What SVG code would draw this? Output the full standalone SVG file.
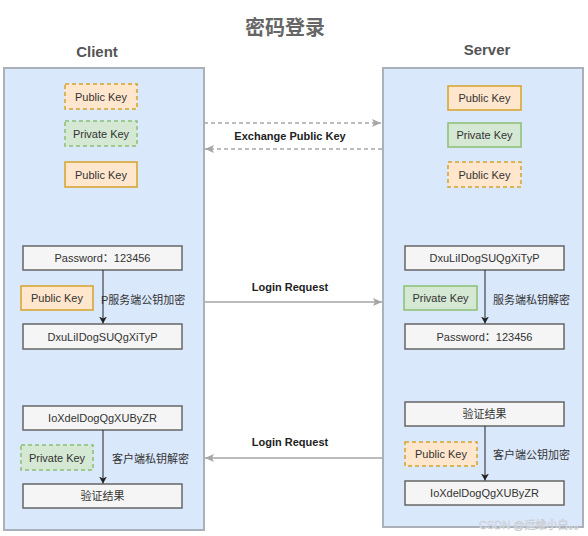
<svg xmlns="http://www.w3.org/2000/svg" width="588" height="536" viewBox="0 0 588 536">
<style>
text{font-family:"Liberation Sans","Noto Sans CJK SC",sans-serif;}
.title{font-size:20px;font-weight:bold;fill:#666;}
.head{font-size:15px;font-weight:bold;fill:#555;}
.panel{fill:#dae8fc;stroke:#abb1ba;stroke-width:2;}
.pub{fill:#ffe6cc;stroke:#d6a22a;stroke-width:1.5;}
.priv{fill:#d5e8d4;stroke:#8cbf72;stroke-width:1.5;}
.dash{stroke-dasharray:4 3;}
.proc{fill:#f5f5f5;stroke:#666;stroke-width:1.5;}
.lbl{font-size:11px;fill:#333;text-anchor:middle;dominant-baseline:central;}
.note{font-size:11px;fill:#333;dominant-baseline:central;}
.elbl{font-size:11px;font-weight:bold;fill:#222;text-anchor:middle;dominant-baseline:central;}
.conn{stroke:#a6a6a6;stroke-width:1.5;fill:none;}
.vert{stroke:#222;stroke-width:1;fill:none;}
</style>
<defs>
<marker id="ag" markerWidth="10" markerHeight="10" refX="9" refY="5" orient="auto" markerUnits="userSpaceOnUse">
<path d="M0,1 L9,5 L0,9 L2,5 Z" fill="#a6a6a6"/>
</marker>
<marker id="ab" markerWidth="8" markerHeight="8" refX="7" refY="4" orient="auto" markerUnits="userSpaceOnUse">
<path d="M0,0 L7,4 L0,8 L2,4 Z" fill="#222"/>
</marker>
</defs>
<rect width="588" height="536" fill="#fff"/>
<text class="title" x="285" y="35" text-anchor="middle">密码登录</text>
<text class="head" x="97" y="57" text-anchor="middle">Client</text>
<text class="head" x="487" y="55" text-anchor="middle">Server</text>

<g id="client-panel"><rect class="panel" x="4" y="68" width="200" height="462"/></g>
<g id="server-panel"><rect class="panel" x="383" y="68" width="200" height="459"/></g>

<g id="c-pub1"><rect class="pub dash" x="65" y="84" width="72" height="25"/><text class="lbl" x="101" y="96.5">Public Key</text></g>
<g id="c-priv"><rect class="priv dash" x="65" y="121" width="72" height="25"/><text class="lbl" x="101" y="133.5">Private Key</text></g>
<g id="c-pub2"><rect class="pub" x="65" y="162" width="72" height="25"/><text class="lbl" x="101" y="174.5">Public Key</text></g>

<g id="s-pub1"><rect class="pub" x="448" y="86" width="73" height="24"/><text class="lbl" x="484.5" y="98">Public Key</text></g>
<g id="s-priv"><rect class="priv" x="448" y="123" width="73" height="24"/><text class="lbl" x="484.5" y="135">Private Key</text></g>
<g id="s-pub2"><rect class="pub dash" x="448" y="162" width="73" height="25"/><text class="lbl" x="484.5" y="174.5">Public Key</text></g>

<g id="c-pwd"><rect class="proc" x="23" y="246" width="159" height="24"/><text class="lbl" x="102.5" y="258">Password：123456</text></g>
<g id="c-pubk"><rect class="pub" x="21" y="286" width="72" height="24"/><text class="lbl" x="57" y="298">Public Key</text></g>
<g id="c-enc"><rect class="proc" x="23" y="324" width="159" height="25"/><text class="lbl" x="102.5" y="336.5">DxuLiIDogSUQgXiTyP</text></g>

<g id="s-enc"><rect class="proc" x="405" y="246" width="159" height="24"/><text class="lbl" x="484.5" y="258">DxuLiIDogSUQgXiTyP</text></g>
<g id="s-privk"><rect class="priv" x="404" y="286" width="73" height="24"/><text class="lbl" x="440.5" y="298">Private Key</text></g>
<g id="s-pwd"><rect class="proc" x="405" y="324" width="159" height="25"/><text class="lbl" x="484.5" y="336.5">Password：123456</text></g>

<g id="c-cipher"><rect class="proc" x="23" y="406" width="159" height="24"/><text class="lbl" x="102.5" y="418">IoXdelDogQgXUByZR</text></g>
<g id="c-privk"><rect class="priv dash" x="21" y="445" width="72" height="25"/><text class="lbl" x="57" y="457.5">Private Key</text></g>
<g id="c-verify"><rect class="proc" x="23" y="484" width="159" height="24"/><text class="lbl" x="102.5" y="496">验证结果</text></g>

<g id="s-verify"><rect class="proc" x="405" y="402" width="159" height="24"/><text class="lbl" x="484.5" y="414">验证结果</text></g>
<g id="s-pubk"><rect class="pub dash" x="405" y="442" width="72" height="24"/><text class="lbl" x="441" y="454">Public Key</text></g>
<g id="s-cipher"><rect class="proc" x="405" y="481" width="159" height="24"/><text class="lbl" x="484.5" y="493">IoXdelDogQgXUByZR</text></g>

<g id="connectors">
<line class="conn dash" x1="204" y1="123" x2="381" y2="123" marker-end="url(#ag)"/>
<line class="conn dash" x1="382" y1="149" x2="205" y2="149" marker-end="url(#ag)"/>
<text class="elbl" x="290" y="136">Exchange Public Key</text>
<line class="conn" x1="205" y1="302" x2="382" y2="302" marker-end="url(#ag)"/>
<text class="elbl" x="290" y="287">Login Request</text>
<line class="conn" x1="382" y1="458" x2="205" y2="458" marker-end="url(#ag)"/>
<text class="elbl" x="290" y="442">Login Request</text>
<line class="vert" x1="103" y1="270" x2="103" y2="323.5" marker-end="url(#ab)"/>
<line class="vert" x1="485" y1="270" x2="485" y2="323.5" marker-end="url(#ab)"/>
<line class="vert" x1="103" y1="430" x2="103" y2="483.5" marker-end="url(#ab)"/>
<line class="vert" x1="485" y1="426" x2="485" y2="480.5" marker-end="url(#ab)"/>
<text class="note" x="101" y="300">P服务端公钥加密</text>
<text class="note" x="493" y="300">服务端私钥解密</text>
<text class="note" x="112" y="459">客户端私钥解密</text>
<text class="note" x="493" y="455">客户端公钥加密</text>
</g>
<text x="479" y="529" font-size="11" fill="#eef2f7" stroke="#c4c8ce" stroke-width="0.5">CSDN @运维小白。。</text>
</svg>
